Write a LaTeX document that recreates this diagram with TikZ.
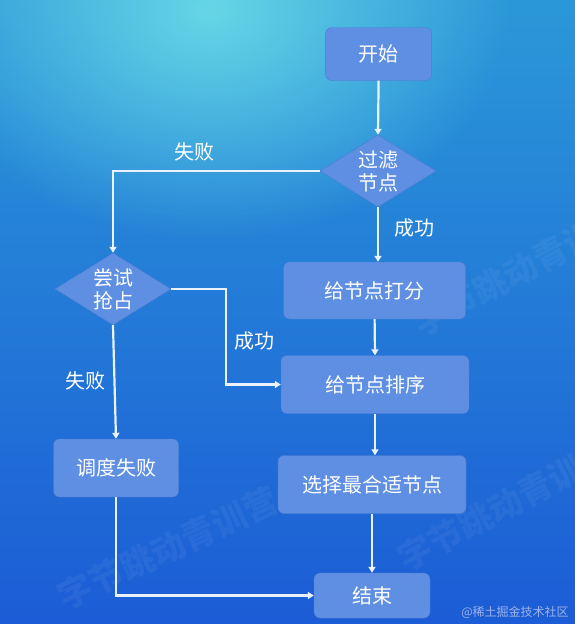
\documentclass[tikz,border=0pt]{standalone}
\usepackage{fontspec}
\setmainfont{Noto Sans CJK SC}
\usetikzlibrary{shapes.geometric,arrows.meta,fadings}
\definecolor{bgtop}{HTML}{2A98D8}
\definecolor{bgbot}{HTML}{1C5CD6}
\definecolor{glowcol}{HTML}{66D6E6}
\definecolor{boxfill}{HTML}{5E8FE2}
\definecolor{boxline}{HTML}{4C7DD4}
\definecolor{flowline}{HTML}{EAF2FF}
\definecolor{markcol}{HTML}{9DB3E8}
\tikzfading[name=glowfade, inner color=transparent!0, outer color=transparent!100]
\begin{document}
\begin{tikzpicture}[x=1pt,y=-1pt,
  stepbox/.style={draw=boxline, fill=boxfill, rounded corners=6pt, text=white,
    font=\fontsize{20}{23}\selectfont, inner sep=0pt},
  choice/.style={diamond, aspect=1.6, draw=boxline, fill=boxfill, text=white,
    font=\fontsize{20}{23}\selectfont, align=center, inner sep=0pt,
    minimum width=116pt, minimum height=72pt},
  flow/.style={draw=flowline, line width=2.2pt, -{Triangle[width=7pt,length=6pt]}},
  lbl/.style={text=white, font=\fontsize{20}{23}\selectfont},
  wmark/.style={text=white, opacity=0.05, font=\fontsize{34}{34}\selectfont\bfseries}]
% background
\useasboundingbox (0,0) rectangle (575,624);
\begin{scope}
\clip (0,0) rectangle (575,624);
\shade[top color=bgtop, bottom color=bgbot] (0,0) rectangle (575,624);
\fill[glowcol, path fading=glowfade] (210,10) ellipse (300 and 230);
\node[wmark, rotate=25] (mark1) at (168,548) {字节跳动青训营};
\node[wmark, rotate=28] (mark2) at (505,505) {字节跳动青训营};
\node[wmark, rotate=28] (mark3) at (520,270) {字节跳动青训营};
\end{scope}
% steps
\node[stepbox, minimum width=106pt, minimum height=53pt] (start) at (378.6,54) {开始};
\node[choice] (filter) at (378,171) {过滤\\节点};
\node[stepbox, minimum width=182pt, minimum height=57pt] (score) at (374.6,290.5) {给节点打分};
\node[choice] (grab) at (113,289) {尝试\\抢占};
\node[stepbox, minimum width=188pt, minimum height=58pt] (sort) at (375,384.5) {给节点排序};
\node[stepbox, minimum width=188pt, minimum height=58pt] (pick) at (372,484.5) {选择最合适节点};
\node[stepbox, minimum width=125pt, minimum height=58pt] (fail) at (116,468) {调度失败};
\node[stepbox, minimum width=116pt, minimum height=45pt] (done) at (372,595.5) {结束};
\coordinate (bend) at (226,289);
% connectors
\draw[flow] (start.south) -- (filter.north);
\draw[flow] (filter.west) -| (grab.north);
\draw[flow] (filter.south) -- (filter.south |- score.north);
\draw[flow] (score.south) -- (sort.north);
\draw[flow] (grab.east) -- (bend) |- (sort.west);
\draw[flow] (sort.south) -- (sort.south |- pick.north);
\draw[flow] (pick.south) -- (done.north);
\draw[flow] (grab.south) -- (fail.north);
\draw[flow] (fail.south) |- (done.west);
% labels
\node[lbl] (nofit) at (194,152) {失败};
\node[lbl] (fitok) at (414,228) {成功};
\node[lbl] (grabok) at (254,341) {成功};
\node[lbl] (grabno) at (85,381) {失败};
\node[text=markcol, font=\fontsize{12}{12}\selectfont] (credit) at (515,612) {@稀土掘金技术社区};
\end{tikzpicture}
\end{document}
